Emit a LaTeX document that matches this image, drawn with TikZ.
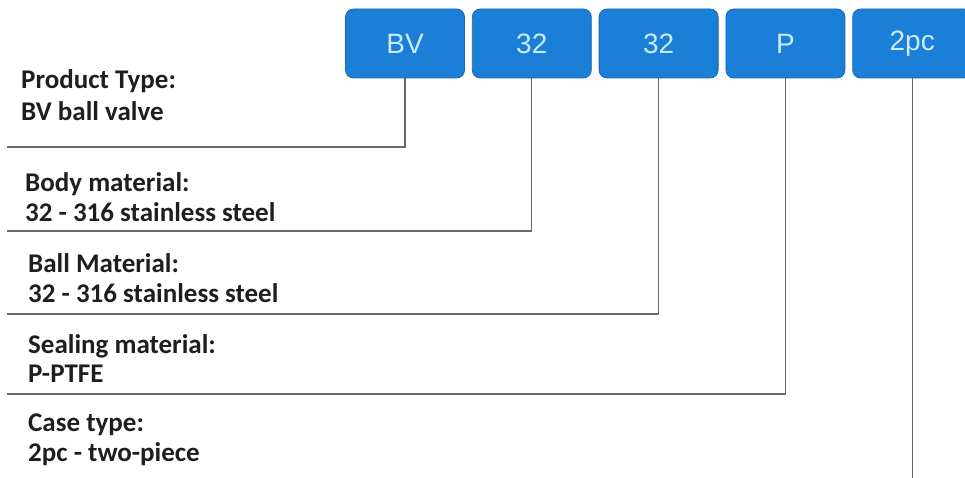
\documentclass[tikz,border=0pt]{standalone}
\usepackage{fontspec}
\setmainfont{Carlito}
\newfontfamily\boxfont{Liberation Sans}
\usetikzlibrary{positioning}
\definecolor{BOXBLUE}{HTML}{1B7FD8}
\definecolor{BOXEDGE}{HTML}{1766B4}
\definecolor{BOXTEXT}{HTML}{C9ECFC}
\definecolor{LINEGRAY}{HTML}{6A6A6A}
\definecolor{LABELTEXT}{HTML}{1E1E1E}
\tikzset{
	codebox/.style = {draw=BOXEDGE, fill=BOXBLUE, rounded corners=8pt, line width=0.8pt,
		minimum width=119pt, minimum height=69pt, inner sep=0pt,
		text=BOXTEXT, font=\boxfont\fontsize{28}{30}\selectfont},
	label/.style = {anchor=base west, inner sep=0pt, text=LABELTEXT,
		font=\bfseries\fontsize{27}{30}\selectfont},
	leader/.style = {draw=LINEGRAY, line width=1.3pt}
}

\begin{document}
\begin{tikzpicture}[x=1pt, y=-1pt]
		\useasboundingbox (0,0) rectangle (965,478);
		% code boxes
		\node[codebox] (bv) at (405,43.5) {BV};
		\node[codebox, right=7pt of bv] (body) {32};
		\node[codebox, right=7pt of body] (ball) {32};
		\node[codebox, right=7pt of ball] (seal) {P};
		\node[codebox, right=7pt of seal] (case) {2pc};
		% descriptions
		\node[label] (bv-head) at (21,89) {Product Type:};
		\node[label] (bv-val) at (21,121) {BV ball valve};
		\node[label] (body-head) at (25,192) {Body material:};
		\node[label] (body-val) at (25,222) {32 - 316 stainless steel};
		\node[label] (ball-head) at (28,272) {Ball Material:};
		\node[label] (ball-val) at (28,302) {32 - 316 stainless steel};
		\node[label] (seal-head) at (28,353) {Sealing material:};
		\node[label] (seal-val) at (28,382) {P-PTFE};
		\node[label] (case-head) at (28,431) {Case type:};
		\node[label] (case-val) at (28,461) {2pc - two-piece};
		% leader lines
		\coordinate (bv-end) at (7,147);
		\coordinate (body-end) at (7,231);
		\coordinate (ball-end) at (7,314);
		\coordinate (seal-end) at (7,394);
		\coordinate (case-end) at (case.south |- {0,478});
		\draw[leader] (bv.south) |- (bv-end);
		\draw[leader] (body.south) |- (body-end);
		\draw[leader] (ball.south) |- (ball-end);
		\draw[leader] (seal.south) |- (seal-end);
		\draw[leader] (case.south) -- (case-end);
	\end{tikzpicture}
\end{document}
